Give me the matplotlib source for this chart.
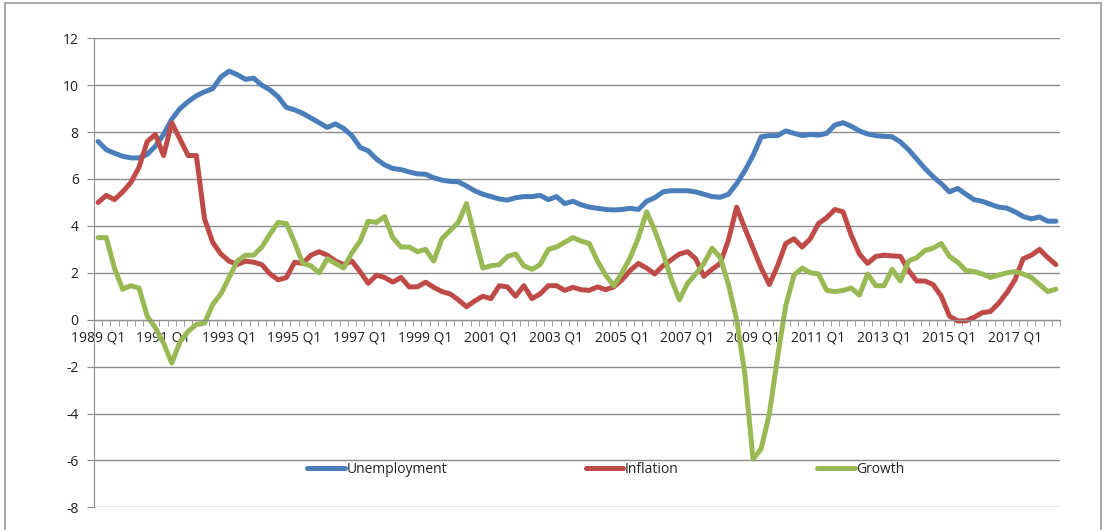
import matplotlib.pyplot as plt
import numpy as np
from matplotlib.patches import Rectangle

# --- data: quarterly, 1989 Q1 .. 2018 Q2 ---
quarters = [f"{y} Q{q}" for y in range(1989, 2019) for q in (1, 2, 3, 4)][:118]

unemployment = [
    7.6, 7.25, 7.1, 6.97, 6.9, 6.9, 7.05, 7.4, 7.9, 8.55,
    9.0, 9.3, 9.55, 9.72, 9.85, 10.35, 10.6, 10.45, 10.25, 10.3,
    10.0, 9.8, 9.5, 9.05, 8.95, 8.8, 8.6, 8.4, 8.2, 8.35,
    8.15, 7.85, 7.35, 7.2, 6.85, 6.6, 6.45, 6.4, 6.3, 6.22,
    6.2, 6.05, 5.95, 5.9, 5.88, 5.7, 5.5, 5.35, 5.25, 5.15,
    5.1, 5.2, 5.25, 5.25, 5.3, 5.12, 5.25, 4.95, 5.05, 4.9,
    4.8, 4.75, 4.7, 4.68, 4.7, 4.75, 4.7, 5.05, 5.2, 5.45,
    5.5, 5.5, 5.5, 5.45, 5.35, 5.25, 5.22, 5.35, 5.8, 6.35,
    7.0, 7.8, 7.85, 7.85, 8.05, 7.95, 7.85, 7.9, 7.87, 7.95,
    8.3, 8.4, 8.25, 8.05, 7.92, 7.85, 7.82, 7.8, 7.58, 7.25,
    6.85, 6.45, 6.1, 5.8, 5.45, 5.6, 5.35, 5.12, 5.05, 4.92,
    4.8, 4.76, 4.6, 4.4, 4.3, 4.38, 4.2, 4.2,
]

inflation = [
    5.0, 5.3, 5.12, 5.45, 5.85, 6.5, 7.6, 7.9, 7.0, 8.4,
    7.7, 7.0, 7.0, 4.3, 3.3, 2.8, 2.5, 2.35, 2.5, 2.45,
    2.35, 1.95, 1.7, 1.8, 2.45, 2.4, 2.75, 2.9, 2.75, 2.5,
    2.35, 2.5, 2.05, 1.55, 1.9, 1.8, 1.6, 1.8, 1.4, 1.4,
    1.6, 1.38, 1.2, 1.1, 0.85, 0.55, 0.8, 1.0, 0.9, 1.45,
    1.4, 1.0, 1.45, 0.9, 1.1, 1.45, 1.45, 1.25, 1.38, 1.28,
    1.25, 1.4, 1.28, 1.4, 1.7, 2.1, 2.4, 2.2, 1.95, 2.3,
    2.55, 2.8, 2.9, 2.6, 1.85, 2.15, 2.4, 3.4, 4.8, 3.9,
    3.05, 2.2, 1.5, 2.3, 3.25, 3.45, 3.1, 3.45, 4.1, 4.35,
    4.7, 4.6, 3.6, 2.8, 2.4, 2.7, 2.75, 2.72, 2.7, 2.1,
    1.65, 1.65, 1.5, 1.0, 0.15, -0.05, -0.05, 0.1, 0.3, 0.35,
    0.7, 1.15, 1.7, 2.6, 2.75, 3.0, 2.65, 2.35,
]

growth = [
    3.5, 3.5, 2.2, 1.3, 1.45, 1.35, 0.15, -0.35, -1.0, -1.85,
    -0.95, -0.5, -0.2, -0.15, 0.65, 1.1, 1.8, 2.5, 2.75, 2.75,
    3.1, 3.65, 4.15, 4.1, 3.3, 2.4, 2.3, 2.0, 2.6, 2.4,
    2.2, 2.85, 3.35, 4.2, 4.15, 4.4, 3.5, 3.1, 3.1, 2.9,
    3.0, 2.5, 3.45, 3.8, 4.15, 4.95, 3.55, 2.2, 2.3, 2.35,
    2.7, 2.8, 2.3, 2.15, 2.35, 3.0, 3.1, 3.3, 3.5, 3.35,
    3.25, 2.5, 1.9, 1.45, 2.0, 2.65, 3.5, 4.6, 3.8, 2.85,
    1.75, 0.85, 1.55, 1.95, 2.4, 3.05, 2.65, 1.5, 0.0, -2.3,
    -5.95, -5.5, -4.0, -1.6, 0.6, 1.9, 2.2, 2.0, 1.95, 1.25,
    1.2, 1.25, 1.35, 1.05, 1.95, 1.45, 1.45, 2.15, 1.65, 2.5,
    2.65, 2.95, 3.05, 3.25, 2.7, 2.45, 2.1, 2.05, 1.95, 1.8,
    1.9, 2.0, 2.05, 1.95, 1.8, 1.5, 1.2, 1.3,
]

series_names = ['Unemployment', 'Inflation', 'Growth']
colors = ['#4A7EBB', '#BE4B48', '#98B954']

plt.rcParams['font.family'] = ['Open Sans', 'DejaVu Sans']
plt.rcParams['axes.unicode_minus'] = False

fig = plt.figure(figsize=(11.07, 5.30), dpi=100)
ax = fig.add_axes([94 / 1107, 1 - 507.3 / 530, 966 / 1107, 469 / 530])

x = np.arange(len(quarters))
for vals, name, c in zip([unemployment, inflation, growth], series_names, colors):
    ax.plot(x, vals, color=c, lw=3.6, label=name, solid_capstyle='round',
            solid_joinstyle='round')

ax.set_xlim(-0.5, len(quarters) - 0.5)
ax.set_ylim(-8, 12)
ax.set_yticks(range(-8, 13, 2))
ax.grid(axis='y', color='#8C8C8C', lw=1.0)
ax.set_axisbelow(True)

gray = '#8C8C8C'
for s in ['top', 'right']:
    ax.spines[s].set_visible(False)
ax.spines['left'].set_color(gray)
ax.spines['bottom'].set_color(gray)
ax.spines['bottom'].set_position(('data', 0))

ax.set_xticks(x[::8])
ax.set_xticklabels(quarters[::8])
ax.set_xticks(np.arange(-0.5, len(quarters), 1), minor=True)
ax.tick_params(axis='x', which='major', length=0, pad=8, labelsize=10,
               labelcolor='#222222')
ax.tick_params(axis='x', which='minor', length=4, color=gray, direction='out')
ax.tick_params(axis='y', length=5, color=gray, pad=6, labelsize=10,
               labelcolor='#222222')

ax.legend(loc='center', bbox_to_anchor=(0.53, 0.08), ncol=3, frameon=False,
          fontsize=10, handlelength=2.7, handletextpad=0.1, columnspacing=10,
          labelcolor='#222222')

fig.add_artist(Rectangle((5 / 1107, -0.05), 1096 / 1107, 1 - 3 / 530 + 0.05,
                         transform=fig.transFigure, fill=False,
                         edgecolor='#9A9A9A', lw=1.2))

fig.savefig('out.png', dpi=100)
